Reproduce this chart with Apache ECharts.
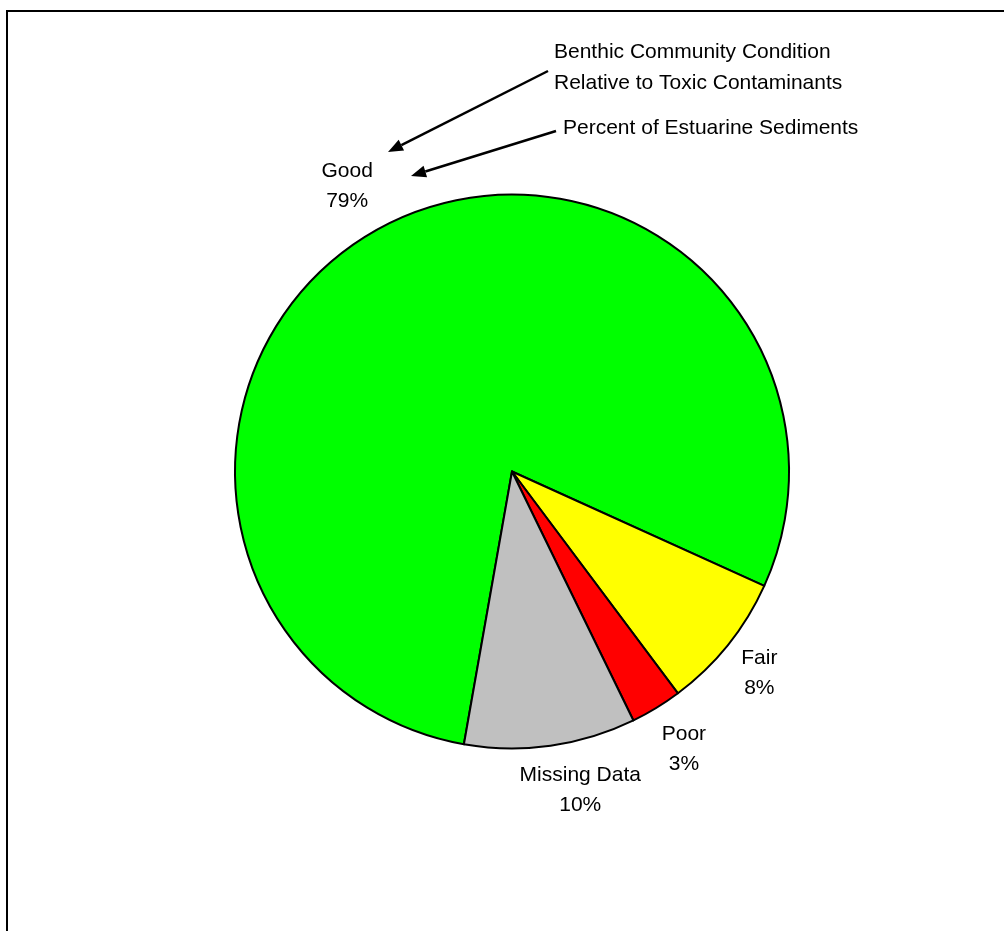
<!DOCTYPE html>
<html>
<head>
<meta charset="utf-8">
<script src="https://cdn.jsdelivr.net/npm/echarts@6/dist/echarts.min.js"></script>
<style>
  html, body { margin: 0; padding: 0; background: #ffffff; }
  #chart { width: 1004px; height: 931px; }
</style>
</head>
<body>
<div id="chart"></div>
<script>
// ---- data ----
const categories = ['Good', 'Fair', 'Poor', 'Missing Data'];
const percents = [79, 8, 3, 10];
const sliceColors = ['#00FF00', '#FFFF00', '#FF0000', '#C0C0C0'];
const titleLines = ['Benthic Community Condition', 'Relative to Toxic Contaminants'];
const subtitle = 'Percent of Estuarine Sediments';

// ---- layout ----
const FONT = '"Liberation Sans", Arial, Helvetica, sans-serif';
const FS = 21;
const CX = 512, CY = 471.5, R = 277;
const START = 260;       // degrees, counter-clockwise from 3 o'clock
const LABEL_GAP = 10;
const labelNudge = { 'Good': [-13, 3], 'Fair': [-2, 1], 'Poor': [3, 1], 'Missing Data': [23, -3] };

const total = percents.reduce((a, b) => a + b, 0);

function arrow(x1, y1, x2, y2) {
  // line from (x1,y1) to tip (x2,y2) with filled head
  const ang = Math.atan2(y2 - y1, x2 - x1);
  const L = 15, W = 6;
  const bx = x2 - L * Math.cos(ang), by = y2 - L * Math.sin(ang);
  const px = -Math.sin(ang) * W, py = Math.cos(ang) * W;
  return [
    { type: 'line', shape: { x1: x1, y1: y1, x2: bx, y2: by },
      style: { stroke: '#000', lineWidth: 2.5 } },
    { type: 'polygon', shape: { points: [[x2, y2], [bx + px, by + py], [bx - px, by - py]] },
      style: { fill: '#000' } }
  ];
}

const chart = echarts.init(document.getElementById('chart'), null, { renderer: 'canvas' });

const graphics = [
  { type: 'rect', shape: { x: 7, y: 11, width: 1100, height: 1000 },
    style: { fill: 'none', stroke: '#000', lineWidth: 2 }, z: 10 },
  { type: 'text', left: 554, top: 37,
    style: { text: titleLines.join('\n'), font: FS + 'px ' + FONT, lineHeight: 31, fill: '#000' } },
  { type: 'text', left: 563, top: 118,
    style: { text: subtitle, font: FS + 'px ' + FONT, fill: '#000' } }
].concat(arrow(548, 71, 388, 152)).concat(arrow(556, 131, 411, 176));

chart.setOption({
  animation: false,
  backgroundColor: '#ffffff',
  graphic: graphics,
  series: [{
    type: 'pie',
    center: [CX, CY],
    radius: R,
    startAngle: START,
    clockwise: true,
    avoidLabelOverlap: false,
    silent: true,
    data: categories.map((c, i) => ({
      name: c, value: percents[i],
      itemStyle: { color: sliceColors[i] }
    })),
    itemStyle: { borderColor: '#000', borderWidth: 2 },
    label: {
      show: true,
      position: 'outside',
      formatter: '{b}\n{c}%',
      fontFamily: FONT,
      fontSize: FS,
      lineHeight: 30,
      color: '#000',
      align: 'center'
    },
    labelLine: { show: false },
    labelLayout: function (p) {
      const i = p.dataIndex;
      let cum = 0;
      for (let k = 0; k < i; k++) cum += percents[k];
      const mid = (START - (cum + percents[i] / 2) / total * 360) * Math.PI / 180;
      const dx = Math.cos(mid), dy = -Math.sin(mid);
      const w = p.labelRect.width, h = p.labelRect.height;
      const ext = Math.abs(dx) * w / 2 + Math.abs(dy) * h / 2;
      const d = R + LABEL_GAP + ext;
      const n = labelNudge[categories[i]] || [0, 0];
      return { x: CX + dx * d + n[0], y: CY + dy * d + n[1], align: 'center', verticalAlign: 'middle' };
    }
  }]
});
</script>
</body>
</html>
